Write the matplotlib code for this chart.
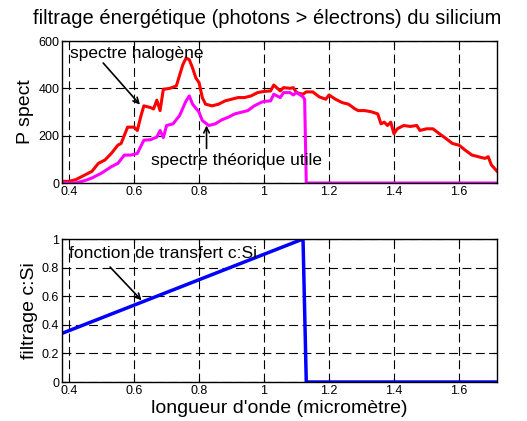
import numpy as np
import matplotlib.pyplot as plt

plt.rcParams['font.family'] = ['Liberation Sans', 'DejaVu Sans']

# spectre halogene (red)
lam_h = [0.378, 0.40, 0.42, 0.45, 0.47, 0.49, 0.51, 0.53, 0.55, 0.56, 0.58, 0.60,
         0.61, 0.62, 0.63, 0.65, 0.66, 0.67, 0.68, 0.69, 0.71, 0.73, 0.75, 0.76,
         0.77, 0.78, 0.79, 0.80, 0.81, 0.82, 0.84, 0.86, 0.88, 0.90, 0.92, 0.94,
         0.96, 0.98, 1.00, 1.02, 1.03, 1.05, 1.06, 1.08, 1.09, 1.10, 1.12, 1.13,
         1.15, 1.17, 1.19, 1.20, 1.22, 1.24, 1.26, 1.28, 1.29, 1.31, 1.33, 1.35,
         1.36, 1.37, 1.38, 1.39, 1.40, 1.41, 1.43, 1.45, 1.47, 1.48, 1.50, 1.52,
         1.54, 1.56, 1.58, 1.60, 1.62, 1.64, 1.66, 1.68, 1.69, 1.70, 1.717]
p_halo = [7, 7, 14, 35, 49, 83, 97, 125, 160, 167, 236, 236,
          222, 278, 326, 319, 313, 350, 306, 396, 400, 410, 500, 528,
          521, 486, 444, 424, 361, 333, 326, 333, 347, 354, 361, 361,
          368, 382, 387, 389, 414, 389, 403, 400, 403, 382, 375, 385,
          385, 364, 354, 372, 354, 340, 333, 313, 306, 306, 301, 292,
          250, 257, 243, 257, 208, 229, 243, 239, 243, 222, 229, 229,
          208, 188, 167, 160, 138, 118, 111, 104, 111, 76, 50]

# spectre theorique utile (magenta)
lam_u = [0.378, 0.42, 0.45, 0.47, 0.50, 0.53, 0.55, 0.57, 0.59, 0.61, 0.63, 0.65,
         0.67, 0.68, 0.69, 0.70, 0.72, 0.74, 0.76, 0.77, 0.78, 0.80, 0.81, 0.83,
         0.85, 0.87, 0.89, 0.91, 0.93, 0.95, 0.97, 0.99, 1.00, 1.02, 1.03, 1.05,
         1.06, 1.08, 1.09, 1.10, 1.12, 1.125, 1.13, 1.717]
p_utile = [0, 0, 11, 21, 42, 69, 83, 118, 118, 125, 181, 183,
           194, 222, 192, 243, 250, 285, 347, 368, 333, 299, 264, 243,
           250, 267, 278, 292, 299, 306, 326, 340, 345, 347, 375, 361,
           382, 382, 372, 382, 364, 354, 0, 0]

# fonction de transfert c:Si (blue)
lam_f = [0.378, 1.12, 1.13, 1.717]
filtre = [0.34, 1.0, 0.0, 0.0]

fig = plt.figure(figsize=(5.27, 4.21), dpi=100)
ax1 = fig.add_axes([0.1176, 0.5653, 0.8254, 0.3373])
ax2 = fig.add_axes([0.1176, 0.0926, 0.8254, 0.3397])

for ax in (ax1, ax2):
    ax.set_xlim(0.378, 1.717)
    ax.set_xticks([0.4, 0.6, 0.8, 1.0, 1.2, 1.4, 1.6])
    ax.set_xticklabels(['0.4', '0.6', '0.8', '1', '1.2', '1.4', '1.6'])
    ax.grid(True, color='black', linestyle=(0, (8, 4)), linewidth=0.8)
    ax.tick_params(direction='in', labelsize=9, length=3, top=True, right=True,
                   labeltop=False, labelright=False, pad=2)
    for s in ax.spines.values():
        s.set_linewidth(1.0)

arrow = dict(arrowstyle='->', color='black', lw=1.2, shrinkA=0, shrinkB=0)

ax1.plot(lam_h, p_halo, color='red', lw=2.2)
ax1.plot(lam_u, p_utile, color='magenta', lw=2.2)
ax1.set_ylim(0, 600)
ax1.set_yticks([0, 200, 400, 600])
ax1.set_ylabel('P spect', fontsize=14, labelpad=3)
fig.text(0.507, 1 - 18 / 421, 'filtrage énergétique (photons > électrons) du silicium',
         fontsize=14.5, ha='center', va='center')
ax1.text(0.403, 548, 'spectre halogène', fontsize=12.5, va='center')
ax1.annotate('', xy=(0.618, 331), xytext=(0.505, 507), arrowprops=arrow)
ax1.text(0.651, 97, 'spectre théorique utile', fontsize=12.5, va='center')
ax1.annotate('', xy=(0.823, 243), xytext=(0.823, 146), arrowprops=arrow)

ax2.plot(lam_f, filtre, color='blue', lw=2.5)
ax2.set_ylim(0, 1)
ax2.set_yticks([0, 0.2, 0.4, 0.6, 0.8, 1.0])
ax2.set_yticklabels(['0', '0.2', '0.4', '0.6', '0.8', '1'])
ax2.set_ylabel('filtrage c:Si', fontsize=14, labelpad=3)
ax2.set_xlabel("longueur d'onde (micromètre)", fontsize=14, labelpad=2)
ax2.text(0.400, 0.902, 'fonction de transfert c:Si', fontsize=12.5, va='center')
ax2.annotate('', xy=(0.623, 0.571), xytext=(0.526, 0.804), arrowprops=arrow)

fig.savefig('out.png', dpi=100)
